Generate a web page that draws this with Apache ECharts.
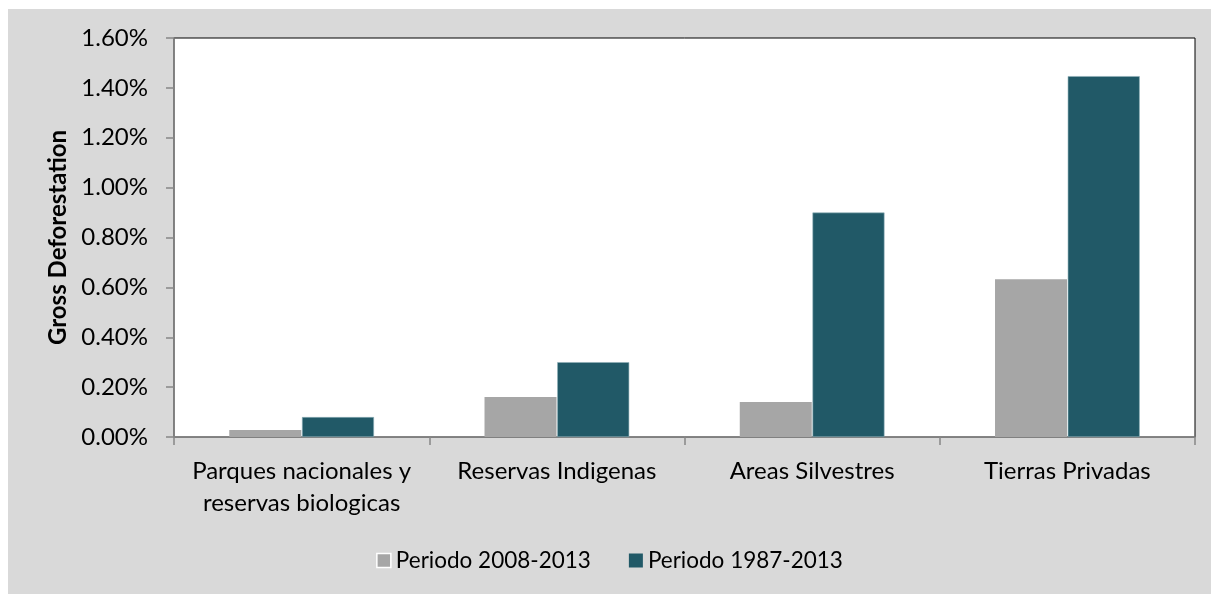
<!DOCTYPE html>
<html>
<head>
<meta charset="utf-8">
<script src="https://cdn.jsdelivr.net/npm/echarts@6/dist/echarts.min.js"></script>
<style>
  html, body { margin: 0; padding: 0; background: #ffffff; }
  #chart { position: absolute; left: 8px; top: 9px; width: 1203px; height: 585px; }
</style>
</head>
<body>
<div id="chart"></div>
<script>
// categorias y valores (en %)
const categories = ['Parques nacionales y\nreservas biologicas', 'Reservas Indigenas', 'Areas Silvestres', 'Tierras Privadas'];
const seriesNames = ['Periodo 2008-2013', 'Periodo 1987-2013'];
const period2008 = [0.028, 0.16, 0.14, 0.633];
const period1987 = [0.08, 0.30, 0.90, 1.447];
const yTicks = [0, 0.2, 0.4, 0.6, 0.8, 1.0, 1.2, 1.4, 1.6];

const font = 'Lato, "Open Sans", sans-serif';

const chart = echarts.init(document.getElementById('chart'));
chart.setOption({
  backgroundColor: '#d9d9d9',
  animation: false,
  grid: {
    left: 166,
    top: 29,
    right: 16,
    bottom: 157,
    show: true,
    backgroundColor: '#ffffff',
    borderColor: '#000000',
    borderWidth: 1,
  },
  legend: {
    bottom: 17,
    left: 'center',
    itemWidth: 14,
    itemHeight: 14,
    itemGap: 38,
    icon: 'rect',
    textStyle: { fontFamily: font, fontSize: 22.5, color: '#000' },
    data: [
      { name: seriesNames[0], itemStyle: { borderColor: '#fff', borderWidth: 1.5 } },
      { name: seriesNames[1], itemStyle: { borderWidth: 0 } },
    ],
  },
  xAxis: {
    type: 'category',
    data: categories,
    axisLine: { lineStyle: { color: '#868686', width: 1.5 } },
    axisTick: { show: true, length: 8, lineStyle: { color: '#868686', width: 1.5 } },
    axisLabel: {
      fontFamily: font,
      fontSize: 24,
      color: '#000',
      margin: 18,
      lineHeight: 32,
      interval: 0,
    },
  },
  yAxis: {
    type: 'value',
    min: 0,
    max: yTicks[yTicks.length - 1],
    interval: 0.2,
    name: 'Gross Deforestation',
    nameLocation: 'middle',
    nameGap: 104,
    nameTextStyle: { fontFamily: font, fontSize: 24, fontWeight: 'bold', color: '#000' },
    axisLine: { show: true, lineStyle: { color: '#868686', width: 1.5 } },
    axisTick: { show: true, length: 8, lineStyle: { color: '#868686', width: 1.5 } },
    splitLine: { show: false },
    axisLabel: {
      fontFamily: font,
      fontSize: 24,
      color: '#000',
      margin: 26,
      formatter: (v) => v.toFixed(2) + '%',
    },
  },
  series: [
    {
      name: seriesNames[0],
      type: 'bar',
      data: period2008,
      barWidth: 72,
      barGap: '1%',
      itemStyle: { color: '#a6a6a6' },
    },
    {
      name: seriesNames[1],
      type: 'bar',
      data: period1987,
      barWidth: 72,
      itemStyle: { color: '#215967', borderColor: '#8fb0b8', borderWidth: 0.6 },
    },
  ],
});
</script>
</body>
</html>
